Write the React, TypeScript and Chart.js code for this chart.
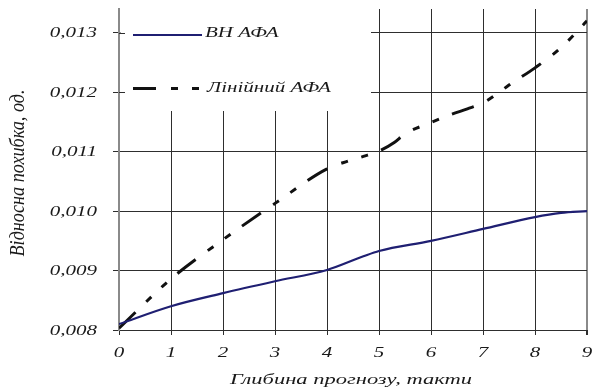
import React, { useEffect, useRef } from "react";
import { Chart, registerables } from "chart.js";

Chart.register(...registerables);

// ---- data ----
const seriesNames = ["ВН АФА", "Лінійний АФА"];
const vnSteps = [0, 1, 2, 3, 4, 4.7, 5, 6, 7, 8, 8.5, 9];
const vnValues = [0.0081, 0.0084, 0.00862, 0.00882, 0.00901, 0.00924, 0.00933, 0.0095, 0.0097, 0.0099, 0.00997, 0.01];
const linSteps = [0, 1, 2, 3, 4, 4.4, 4.7, 5, 5.3, 5.5, 6, 6.4, 6.7, 7, 7.3, 7.5, 8, 8.5, 9];
const linValues = [
  0.00803, 0.00886, 0.00952, 0.01013, 0.01071, 0.01084, 0.01092, 0.01101, 0.01116, 0.0113,
  0.01149, 0.01163, 0.01172, 0.01182, 0.01199, 0.01212, 0.01241, 0.01275, 0.0132,
];
const xTickValues = [0, 1, 2, 3, 4, 5, 6, 7, 8, 9];
const xTickLabels = ["0", "1", "2", "3", "4", "5", "6", "7", "8", "9"];
const yTickValues = [0.008, 0.009, 0.01, 0.011, 0.012, 0.013];
const yTickLabels = ["0,008", "0,009", "0,010", "0,011", "0,012", "0,013"];
const xTitle = "Глибина прогнозу, такти";
const yTitle = "Відносна похибка, од.";

// ---- styles ----
const FONT = '"Liberation Serif", "Times New Roman", serif';
const TEXT = "#1a1a1a";
const GRID = "#2e2e2e";
const AXIS_GRAY = "#8a8a8a";
const NAVY = "#1f1f72";
const DASH = [23, 15, 7, 14, 7, 14];
const SX = 1.5;

function stretchText(
  ctx: CanvasRenderingContext2D,
  text: string,
  x: number,
  y: number,
  align: CanvasTextAlign,
  size: number,
  sx: number
) {
  ctx.save();
  ctx.font = `italic ${size}px ${FONT}`;
  ctx.fillStyle = TEXT;
  ctx.textBaseline = "middle";
  ctx.textAlign = align;
  ctx.translate(x, y);
  ctx.scale(sx, 1);
  ctx.fillText(text, 0, 0);
  ctx.restore();
}

const legendPlugin = {
  id: "boxLegend",
  beforeDatasetsDraw(chart: any) {
    const { ctx, chartArea, scales } = chart;
    const yS = scales.y;
    const boxRight = 371;
    const boxBottom = 111;
    ctx.save();
    ctx.fillStyle = "#ffffff";
    ctx.fillRect(chartArea.left + 1.5, chartArea.top, boxRight - chartArea.left - 1.5, boxBottom - chartArea.top);
    // inner half of tick marks hidden by box
    ctx.strokeStyle = GRID;
    ctx.lineWidth = 1;
    yTickValues.forEach((v) => {
      const py = Math.round(yS.getPixelForValue(v)) + 0.5;
      if (py < boxBottom) {
        ctx.beginPath();
        ctx.moveTo(chartArea.left, py);
        ctx.lineTo(chartArea.left + 6, py);
        ctx.stroke();
      }
    });
    // legend item 1
    ctx.strokeStyle = NAVY;
    ctx.lineWidth = 2;
    ctx.beginPath();
    ctx.moveTo(133, 35);
    ctx.lineTo(202, 35);
    ctx.stroke();
    // legend item 2
    ctx.strokeStyle = "#111111";
    ctx.lineWidth = 3;
    ctx.setLineDash(DASH);
    ctx.beginPath();
    ctx.moveTo(133, 88.5);
    ctx.lineTo(200, 88.5);
    ctx.stroke();
    ctx.setLineDash([]);
    ctx.restore();
    stretchText(ctx, seriesNames[0], 205, 33, "left", 14, SX);
    stretchText(ctx, seriesNames[1], 207, 88, "left", 14, SX);
  },
  afterDraw(chart: any) {
    const { ctx, scales } = chart;
    const xS = scales.x;
    const yS = scales.y;
    yTickValues.forEach((v, i) => {
      stretchText(ctx, yTickLabels[i], 97, yS.getPixelForValue(v) + 1, "right", 14, SX);
    });
    xTickValues.forEach((v, i) => {
      stretchText(ctx, xTickLabels[i], xS.getPixelForValue(v), 353, "center", 14, SX);
    });
    // x title
    stretchText(ctx, xTitle, 351, 380, "center", 15, SX);
    // y title (rotated)
    ctx.save();
    ctx.font = `italic 14px ${FONT}`;
    const w = ctx.measureText(yTitle).width;
    const k = 167 / w;
    ctx.fillStyle = TEXT;
    ctx.textAlign = "center";
    ctx.textBaseline = "middle";
    ctx.translate(18.5, 173);
    ctx.scale(SX, 1);
    ctx.rotate(-Math.PI / 2);
    ctx.scale(k, 1);
    ctx.fillText(yTitle, 0, 0);
    ctx.restore();
  },
};

export default function App() {
  const ref = useRef<HTMLCanvasElement | null>(null);

  useEffect(() => {
    if (!ref.current) return;
    const chart = new Chart(ref.current, {
      type: "line",
      data: {
        datasets: [
          {
            label: seriesNames[0],
            data: vnSteps.map((x, i) => ({ x, y: vnValues[i] })),
            borderColor: NAVY,
            borderWidth: 2.2,
            pointRadius: 0,
            cubicInterpolationMode: "monotone",
            fill: false,
          },
          {
            label: seriesNames[1],
            data: linSteps.map((x, i) => ({ x, y: linValues[i] })),
            borderColor: "#111111",
            borderWidth: 3,
            borderDash: DASH,
            pointRadius: 0,
            cubicInterpolationMode: "monotone",
            fill: false,
          },
        ],
      },
      options: {
        responsive: false,
        animation: false,
        layout: { padding: { top: 9, right: 5, left: 0, bottom: 0 } },
        plugins: { legend: { display: false }, tooltip: { enabled: false } },
        scales: {
          x: {
            type: "linear",
            min: 0,
            max: 9,
            ticks: { stepSize: 1, display: false },
            grid: {
              color: (c: any) => (c.index === 0 ? "rgba(0,0,0,0)" : c.index === 9 ? AXIS_GRAY : GRID),
              lineWidth: (c: any) => (c.index === 9 ? 2 : 1),
              tickLength: 5,
              tickColor: GRID,
              drawTicks: true,
            },
            border: { display: true, color: GRID, width: 1 },
            afterFit: (s: any) => {
              s.height = 57;
            },
          },
          y: {
            type: "linear",
            min: 0.008,
            max: 0.0134,
            ticks: { stepSize: 0.001, display: false },
            afterBuildTicks: (s: any) => {
              s.ticks = s.ticks.filter((t: any) => t.value <= 0.0130001);
            },
            grid: {
              color: (c: any) => (c.index === 0 ? "rgba(0,0,0,0)" : GRID),
              lineWidth: 1,
              tickLength: 6,
              tickColor: GRID,
              drawTicks: true,
            },
            border: { display: true, color: AXIS_GRAY, width: 2 },
            afterFit: (s: any) => {
              s.width = 119;
            },
          },
        },
      },
      plugins: [legendPlugin],
    });
    return () => chart.destroy();
  }, []);

  return (
    <div style={{ position: "absolute", left: 0, top: 0, width: 592, height: 387, background: "#fff" }}>
      <canvas ref={ref} width={592} height={387} />
    </div>
  );
}
